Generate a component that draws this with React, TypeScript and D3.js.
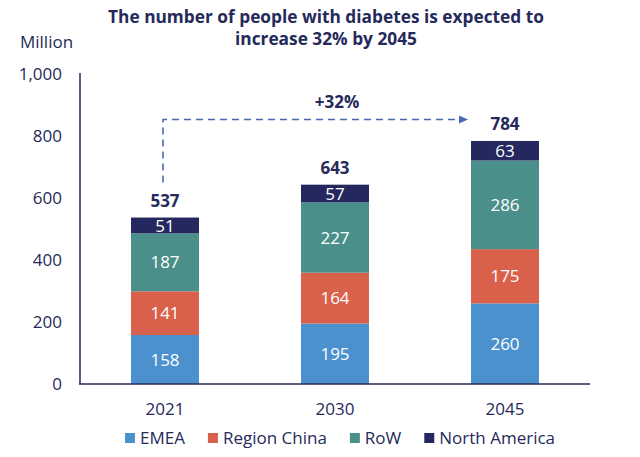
import React, { useEffect, useRef } from "react";
import * as d3 from "d3";

const categories = ["2021", "2030", "2045"];
const emea = [158, 195, 260];
const regionChina = [141, 164, 175];
const row = [187, 227, 286];
const northAmerica = [51, 57, 63];
const seriesNames = ["EMEA", "Region China", "RoW", "North America"];
const yTicks = [0, 200, 400, 600, 800, 1000];
const titleLines = [
  "The number of people with diabetes is expected to",
  "increase 32% by 2045",
];
const growthLabel = "+32%";

const W = 640;
const H = 457;
const NAVY = "#252A5A";
const COLORS = ["#4B91CD", "#D9604A", "#4A8F89", "#24285E"];
const FONT = "'Open Sans', 'Noto Sans', sans-serif";
const FS = 17;

export default function App() {
  const ref = useRef<SVGSVGElement | null>(null);

  useEffect(() => {
    const svg = d3.select(ref.current);
    svg.selectAll("*").remove();

    const x = d3
      .scaleBand<string>()
      .domain(categories)
      .range([80, 590])
      .paddingInner(0.6)
      .paddingOuter(0.3);
    const y = d3.scaleLinear().domain([0, 1000]).range([384, 74]);

    const seriesData = [emea, regionChina, row, northAmerica];
    const table = categories.map((c, i) => {
      const o: any = { cat: c };
      seriesNames.forEach((s, k) => (o[s] = seriesData[k][i]));
      return o;
    });
    const stack = d3.stack<any>().keys(seriesNames)(table);
    const totals = categories.map((_, i) => d3.sum(seriesData, (s) => s[i]));

    // Title
    const title = svg
      .append("text")
      .attr("text-anchor", "middle")
      .attr("font-family", FONT)
      .attr("font-weight", 700)
      .attr("font-size", 17.3)
      .attr("fill", NAVY);
    titleLines.forEach((t, i) =>
      title
        .append("tspan")
        .attr("x", 326)
        .attr("y", 23 + i * 22)
        .text(t)
    );

    // Unit label
    svg
      .append("text")
      .attr("x", 20)
      .attr("y", 48)
      .attr("font-family", FONT)
      .attr("font-size", FS)
      .attr("fill", NAVY)
      .text("Million");

    // Y tick labels
    svg
      .append("g")
      .selectAll("text")
      .data(yTicks)
      .join("text")
      .attr("x", 62)
      .attr("y", (d) => y(d))
      .attr("dy", "0.35em")
      .attr("text-anchor", "end")
      .attr("font-family", FONT)
      .attr("font-size", FS)
      .attr("fill", NAVY)
      .text((d) => d3.format(",")(d));

    // Bars
    const layers = svg
      .append("g")
      .selectAll("g")
      .data(stack)
      .join("g")
      .attr("fill", (_, i) => COLORS[i]);
    layers
      .selectAll("rect")
      .data((d) => d)
      .join("rect")
      .attr("x", (d: any) => x(d.data.cat)!)
      .attr("width", x.bandwidth())
      .attr("y", (d) => y(d[1]))
      .attr("height", (d) => y(d[0]) - y(d[1]));

    // Segment labels
    const lbl = svg.append("g");
    stack.forEach((layer) => {
      layer.forEach((d: any) => {
        lbl
          .append("text")
          .attr("x", x(d.data.cat)! + x.bandwidth() / 2)
          .attr("y", (y(d[0]) + y(d[1])) / 2)
          .attr("dy", "0.36em")
          .attr("text-anchor", "middle")
          .attr("font-family", FONT)
          .attr("font-size", FS)
          .attr("fill", "#ffffff")
          .text(d[1] - d[0]);
      });
    });

    // Totals
    svg
      .append("g")
      .selectAll("text")
      .data(categories)
      .join("text")
      .attr("x", (c) => x(c)! + x.bandwidth() / 2)
      .attr("y", (_, i) => y(totals[i]) - 11)
      .attr("text-anchor", "middle")
      .attr("font-family", FONT)
      .attr("font-weight", 700)
      .attr("font-size", FS)
      .attr("fill", NAVY)
      .text((_, i) => totals[i]);

    // Axes lines
    svg
      .append("line")
      .attr("x1", 80)
      .attr("x2", 80)
      .attr("y1", y(1000) - 1)
      .attr("y2", y(0))
      .attr("stroke", NAVY)
      .attr("stroke-width", 1.5);
    svg
      .append("line")
      .attr("x1", 79)
      .attr("x2", 590)
      .attr("y1", y(0))
      .attr("y2", y(0))
      .attr("stroke", NAVY)
      .attr("stroke-width", 1.5);

    // X labels
    svg
      .append("g")
      .selectAll("text")
      .data(categories)
      .join("text")
      .attr("x", (c) => x(c)! + x.bandwidth() / 2)
      .attr("y", 415)
      .attr("text-anchor", "middle")
      .attr("font-family", FONT)
      .attr("font-size", FS)
      .attr("fill", NAVY)
      .text((c) => c);

    // Growth arrow
    const DASH = "#4A68B5";
    const x0 = x(categories[0])! + x.bandwidth() / 2 - 2;
    const yTopArrow = y(850) - 1;
    const xEnd = x(categories[2])! - 3;
    svg
      .append("path")
      .attr(
        "d",
        d3.line()([
          [x0, y(650)],
          [x0, yTopArrow],
          [xEnd - 7, yTopArrow],
        ])!
      )
      .attr("fill", "none")
      .attr("stroke", DASH)
      .attr("stroke-width", 1.6)
      .attr("stroke-dasharray", "7,5");
    svg
      .append("path")
      .attr(
        "d",
        `M${xEnd},${yTopArrow} L${xEnd - 9},${yTopArrow - 4} L${xEnd - 9},${yTopArrow + 4} Z`
      )
      .attr("fill", DASH);
    svg
      .append("text")
      .attr("x", 337)
      .attr("y", 108)
      .attr("text-anchor", "middle")
      .attr("font-family", FONT)
      .attr("font-weight", 700)
      .attr("font-size", FS)
      .attr("fill", NAVY)
      .text(growthLabel);

    // Legend
    const leg = svg.append("g");
    const items = seriesNames.map((name, i) => {
      const g = leg.append("g");
      g.append("rect")
        .attr("x", 0)
        .attr("y", -5)
        .attr("width", 10)
        .attr("height", 10)
        .attr("fill", COLORS[i]);
      const t = g
        .append("text")
        .attr("x", 15)
        .attr("dy", "0.35em")
        .attr("font-family", FONT)
        .attr("font-size", FS)
        .attr("fill", NAVY)
        .text(name);
      const w = (t.node() as SVGTextElement).getComputedTextLength();
      return { g, w: 15 + w };
    });
    const gap = 23;
    const total = d3.sum(items, (d) => d.w) + gap * (items.length - 1);
    let cx = 340 - total / 2;
    items.forEach((it) => {
      it.g.attr("transform", `translate(${cx},438)`);
      cx += it.w + gap;
    });
  }, []);

  return (
    <svg
      ref={ref}
      width={W}
      height={H}
      style={{ position: "absolute", left: 0, top: 0, display: "block", background: "#fff" }}
    />
  );
}
